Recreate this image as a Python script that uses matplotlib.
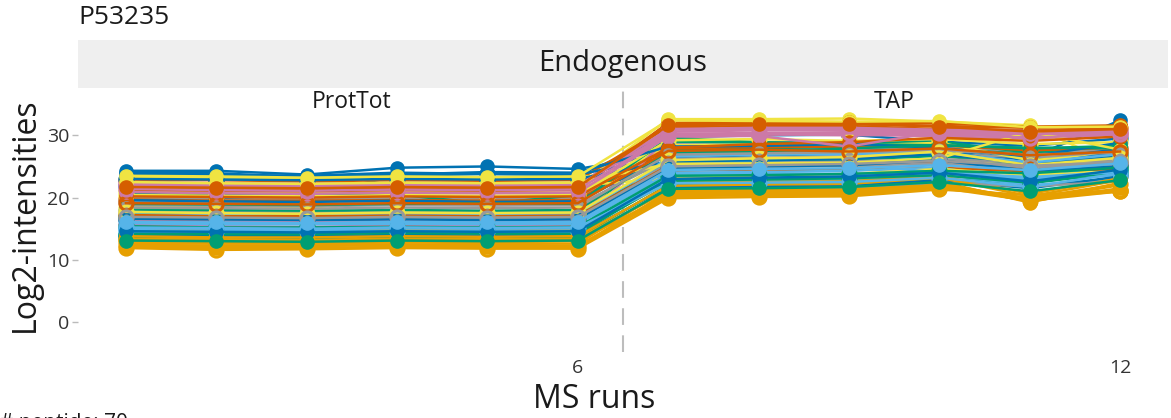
import matplotlib
matplotlib.use("Agg")
import matplotlib.pyplot as plt
from matplotlib.patches import Rectangle

plt.rcParams["font.family"] = ["Open Sans", "DejaVu Sans"]

protein = "P53235"
condition = "Endogenous"
groups = ["ProtTot", "TAP"]
runs = list(range(1, 13))
group_boundary = 6.5
x_ticks = [6, 12]
y_ticks = [0, 10, 20, 30]

# Log2 intensities per peptide across the 12 MS runs (runs 1-6 ProtTot, 7-12 TAP)
peptides = [
    [24.3, 24.3, 23.7, 24.8, 25.0, 24.6, 27.0, 27.2, 27.5, 27.9, 26.4, 32.4],
    [12.3, 12.1, 12.2, 12.4, 12.2, 12.1, 20.9, 21.0, 21.1, 22.3, 19.6, 22.0],
    [17.6, 17.4, 17.3, 17.5, 17.4, 17.5, 27.6, 27.9, 28.1, 28.0, 27.2, 27.5],
    [18.6, 18.4, 17.1, 21.5, 21.9, 21.7, 32.6, 32.6, 32.7, 32.2, 31.6, 25.0],
    [15.3, 15.1, 15.2, 15.4, 15.2, 15.3, 22.6, 22.8, 22.7, 24.2, 22.9, 23.6],
    [21.5, 21.4, 21.3, 21.5, 21.4, 21.6, 31.9, 32.0, 31.9, 31.5, 31.2, 31.5],
    [22.6, 22.3, 22.2, 22.4, 22.3, 22.2, 30.6, 30.8, 30.9, 30.7, 30.4, 30.4],
    [20.0, 19.8, 19.7, 19.9, 19.8, 19.9, 28.8, 28.9, 29.0, 28.6, 27.8, 28.1],
    [21.8, 20.0, 20.3, 23.5, 23.8, 23.6, 29.7, 30.0, 30.1, 29.0, 28.3, 29.5],
    [11.9, 11.6, 11.7, 11.9, 11.8, 11.8, 19.9, 20.1, 20.2, 21.3, 20.4, 21.2],
    [13.6, 13.5, 13.5, 13.6, 13.5, 13.6, 22.0, 22.2, 22.3, 23.0, 22.3, 24.0],
    [18.3, 18.0, 18.5, 17.2, 17.3, 17.4, 25.0, 25.3, 25.0, 26.0, 25.4, 25.8],
    [15.0, 14.9, 14.8, 15.0, 14.9, 15.0, 23.3, 23.4, 23.2, 24.5, 23.0, 24.4],
    [22.9, 22.8, 22.6, 22.8, 22.7, 22.8, 31.3, 31.5, 31.5, 31.0, 30.8, 31.2],
    [22.3, 22.1, 22.0, 22.2, 22.1, 21.9, 30.3, 30.2, 30.0, 30.1, 30.0, 30.3],
    [19.3, 19.2, 19.0, 19.2, 19.1, 19.2, 27.2, 27.5, 27.8, 28.2, 27.4, 27.6],
    [23.7, 23.6, 23.5, 24.0, 23.8, 23.7, 26.5, 26.8, 27.0, 27.5, 26.0, 27.8],
    [12.7, 12.6, 12.6, 12.8, 12.7, 12.6, 21.5, 21.6, 21.6, 22.6, 19.2, 22.4],
    [20.6, 20.4, 20.3, 20.5, 19.0, 20.4, 29.0, 28.8, 28.7, 29.0, 27.2, 28.5],
    [23.3, 23.1, 23.0, 23.2, 23.1, 23.3, 24.5, 24.9, 25.2, 25.5, 23.5, 24.8],
    [14.4, 14.3, 14.3, 14.5, 14.4, 14.3, 22.9, 23.0, 22.9, 23.7, 22.0, 23.0],
    [16.8, 16.7, 16.6, 16.7, 16.6, 16.7, 24.3, 24.5, 24.4, 24.8, 24.2, 24.6],
    [16.4, 16.2, 16.2, 16.3, 16.2, 16.3, 30.9, 31.1, 31.0, 30.6, 30.3, 30.8],
    [18.8, 18.7, 18.6, 18.8, 18.7, 18.8, 26.2, 26.4, 26.6, 27.0, 26.5, 26.8],
    [14.0, 13.9, 13.8, 14.0, 13.9, 14.0, 21.7, 21.8, 21.9, 22.8, 21.5, 23.4],
    [13.0, 12.9, 12.8, 13.0, 12.9, 13.0, 20.4, 20.6, 20.7, 21.8, 19.8, 21.0],
    [17.0, 16.8, 16.8, 17.0, 16.9, 17.0, 25.6, 25.8, 26.1, 26.7, 25.3, 26.5],
    [21.0, 20.8, 20.7, 20.9, 20.8, 20.7, 28.4, 28.5, 28.3, 28.8, 26.0, 27.0],
    [16.0, 15.8, 15.8, 15.9, 15.8, 15.9, 24.0, 24.1, 24.3, 24.8, 22.6, 25.9],
    [19.7, 19.5, 19.5, 19.6, 19.5, 19.6, 27.9, 28.1, 28.2, 28.4, 27.6, 28.0],
    [15.6, 15.4, 15.3, 15.5, 15.4, 15.5, 29.6, 30.1, 30.2, 29.8, 29.5, 30.1],
    [17.9, 17.8, 17.7, 17.9, 17.8, 17.9, 25.4, 25.6, 25.8, 26.2, 25.6, 26.0],
    [19.6, 19.4, 19.3, 19.5, 19.3, 19.4, 26.8, 27.0, 27.4, 27.6, 25.2, 27.3],
    [14.7, 14.6, 14.5, 14.7, 14.6, 14.7, 22.4, 22.5, 22.6, 23.5, 20.6, 23.1],
    [19.0, 18.9, 18.8, 19.0, 19.1, 19.0, 29.6, 28.9, 28.6, 28.4, 28.0, 27.9],
    [22.0, 21.8, 21.7, 21.9, 21.8, 21.9, 23.1, 23.5, 23.8, 24.6, 23.6, 24.2],
    [17.3, 17.2, 17.1, 17.3, 17.2, 17.3, 26.0, 25.6, 25.4, 24.0, 23.0, 23.8],
    [21.2, 21.1, 21.0, 21.2, 21.1, 21.2, 32.0, 32.2, 32.1, 31.9, 31.4, 31.6],
    [21.9, 21.7, 21.6, 21.8, 21.7, 21.8, 31.0, 31.2, 31.2, 30.9, 30.7, 30.6],
    [13.3, 13.2, 13.1, 13.3, 13.2, 13.3, 21.2, 21.4, 21.6, 22.4, 21.8, 22.6],
    [23.0, 22.9, 22.8, 23.0, 22.9, 23.0, 25.8, 26.0, 26.2, 27.0, 25.5, 26.6],
    [12.4, 12.3, 12.3, 12.5, 12.4, 12.3, 20.2, 20.4, 20.4, 21.6, 19.5, 21.0],
    [14.2, 14.1, 14.1, 14.3, 14.2, 14.2, 22.7, 22.9, 23.1, 23.6, 22.4, 24.2],
    [20.4, 20.3, 20.2, 20.4, 20.3, 20.4, 29.2, 29.4, 29.1, 29.4, 28.6, 28.9],
    [14.8, 14.6, 14.6, 14.7, 14.6, 14.7, 26.6, 26.9, 27.0, 27.3, 25.6, 27.0],
    [17.2, 17.0, 17.0, 17.1, 17.0, 17.1, 25.1, 25.3, 25.2, 25.6, 24.7, 25.4],
    [22.1, 21.9, 21.8, 22.0, 21.9, 22.0, 30.2, 30.4, 30.5, 30.6, 29.9, 30.7],
    [16.6, 16.5, 16.4, 16.6, 16.5, 16.6, 24.7, 24.9, 25.1, 25.5, 24.9, 25.3],
    [24.0, 23.9, 23.3, 23.7, 24.1, 24.0, 28.2, 28.3, 28.6, 28.0, 26.6, 28.8],
    [13.8, 13.6, 13.6, 13.8, 13.7, 13.8, 21.9, 22.1, 22.2, 23.2, 20.2, 22.8],
    [18.1, 18.0, 17.9, 18.0, 17.9, 18.0, 27.2, 27.4, 27.9, 28.4, 27.9, 28.3],
    [22.5, 22.3, 22.2, 22.4, 22.3, 22.4, 25.4, 25.5, 25.6, 26.3, 30.6, 27.7],
    [15.9, 15.7, 15.7, 15.8, 15.7, 15.8, 23.8, 23.9, 23.8, 24.0, 23.3, 24.1],
    [20.2, 20.1, 20.0, 20.2, 20.1, 20.2, 28.0, 28.6, 28.9, 29.6, 29.1, 29.8],
    [20.9, 20.7, 20.6, 20.8, 20.7, 20.8, 29.8, 29.9, 28.2, 30.6, 30.2, 30.5],
    [18.4, 18.3, 18.2, 18.4, 18.3, 18.4, 26.9, 27.1, 27.3, 27.6, 26.9, 27.2],
    [16.6, 16.5, 16.4, 16.5, 16.4, 16.5, 24.8, 25.0, 25.2, 26.0, 24.3, 25.0],
    [13.4, 13.3, 13.2, 13.4, 13.3, 13.4, 21.1, 21.2, 21.3, 22.0, 19.9, 22.2],
    [15.4, 15.2, 15.2, 15.3, 15.2, 15.3, 23.5, 23.6, 23.8, 24.3, 23.9, 24.8],
    [17.7, 17.5, 17.4, 17.6, 17.5, 17.6, 26.0, 26.3, 26.5, 27.4, 25.2, 26.4],
    [15.2, 15.1, 15.0, 15.2, 15.1, 15.2, 22.3, 22.4, 22.5, 23.2, 21.7, 23.9],
    [19.1, 19.0, 18.9, 19.1, 19.0, 19.1, 27.5, 27.7, 27.4, 27.9, 26.8, 27.4],
    [21.4, 21.2, 21.1, 21.3, 21.2, 21.3, 30.0, 30.2, 30.3, 30.3, 29.6, 30.2],
    [16.9, 16.8, 16.7, 16.9, 16.8, 16.9, 25.0, 25.2, 25.4, 25.9, 25.1, 25.7],
    [14.6, 14.5, 14.4, 14.6, 14.5, 14.6, 23.0, 23.2, 23.4, 24.0, 22.6, 24.5],
    [12.0, 11.9, 11.9, 12.1, 12.0, 11.9, 20.6, 20.8, 20.9, 22.0, 19.4, 21.5],
    [13.1, 13.0, 12.9, 13.1, 13.0, 13.1, 21.4, 21.5, 21.7, 22.5, 21.0, 22.8],
    [23.5, 23.4, 23.2, 23.4, 23.3, 23.4, 32.4, 32.3, 32.2, 32.3, 31.3, 31.4],
    [16.1, 16.0, 15.9, 16.1, 16.0, 16.1, 24.4, 24.6, 24.7, 25.2, 24.4, 25.5],
    [21.7, 21.6, 21.5, 21.7, 21.6, 21.7, 31.6, 31.8, 31.8, 31.4, 30.6, 31.0],
]

palette = ["#0072B2", "#E69F00", "#009E73", "#F0E442",
           "#56B4E9", "#D55E00", "#CC79A7", "#999999"]

W, H = 1171, 418
fig = plt.figure(figsize=(W / 100, H / 100), dpi=100)

left, right, top, bottom = 78, 1168, 88, 352
ax = fig.add_axes([left / W, 1 - bottom / H, (right - left) / W, (bottom - top) / H])

# facet strip
fig.patches.append(Rectangle((left / W, 1 - 88 / H), (right - left) / W, 48 / H,
                             transform=fig.transFigure, facecolor="#EFEFEF",
                             edgecolor="none", zorder=0))
fig.text((left + right) / 2 / W, 1 - 64 / H, condition, ha="center", va="center",
         fontsize=21, color="#1a1a1a")
fig.text(left / W, 1 - 18 / H, protein, ha="left", va="center",
         fontsize=19, color="#1a1a1a")

for i, vals in enumerate(peptides):
    col = palette[i % len(palette)]
    hollow = (i // len(palette)) % 2 == 1
    ax.plot(runs, vals, color=col, lw=1.8, marker="o", ms=9.5,
            markerfacecolor="none" if hollow else col,
            markeredgecolor=col, markeredgewidth=2.2 if hollow else 1.0,
            solid_joinstyle="round", zorder=2)

ax.axvline(group_boundary, color="#BDBDBD", lw=1.5, ls=(0, (8, 5)), zorder=1)

ax.text(3.5, 35.3, groups[0], ha="center", va="center", fontsize=16.5, color="#1a1a1a")
ax.text(9.5, 35.3, groups[1], ha="center", va="center", fontsize=16.5, color="#1a1a1a")

ax.set_xlim(0.47, 12.53)
ax.set_ylim(-4.8, 37.6)
ax.set_xticks(x_ticks)
ax.set_yticks(y_ticks)
ax.tick_params(axis="x", length=0, pad=5, labelsize=14, labelcolor="#333333")
ax.tick_params(axis="y", length=4, width=1, color="#BBBBBB", pad=2,
               labelsize=14, labelcolor="#333333")
for s in ax.spines.values():
    s.set_visible(False)

fig.text(25 / W, 1 - 215 / H, "Log2-intensities", rotation=90, ha="center",
         va="center", fontsize=23, color="#1a1a1a")
fig.text(594 / W, 1 - 400 / H, "MS runs", ha="center", va="center",
         fontsize=23, color="#1a1a1a")

fig.text(0 / W, 1 - 413 / H, "# peptide: 70", ha="left", va="top",
         fontsize=15, color="#1a1a1a")

fig.savefig("out.png", dpi=100)
